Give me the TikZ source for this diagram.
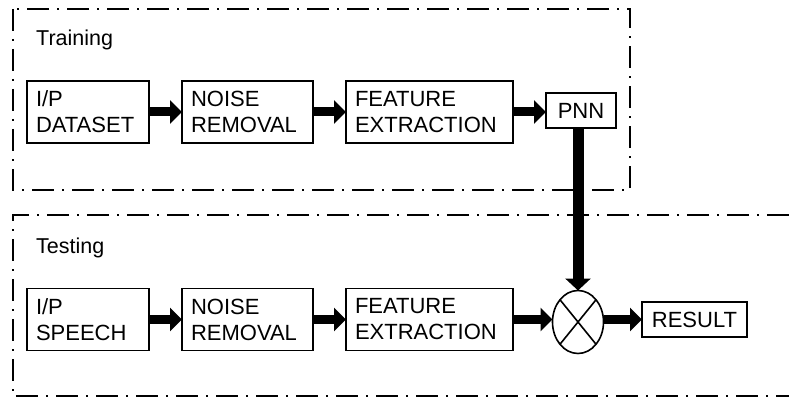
\documentclass[tikz,border=0pt]{standalone}
\usepackage{fontspec}
\setmainfont{Liberation Sans}
\usetikzlibrary{arrows.meta,shapes.geometric}
\begin{document}
\begin{tikzpicture}[x=1pt,y=-1pt,
  txt/.style={font=\fontsize{22}{26}\selectfont},
  lbl/.style={font=\fontsize{21.5}{26}\selectfont},
  blk/.style={draw,line width=1.6pt,rectangle,txt,inner xsep=9pt,inner ysep=0pt,align=left,minimum height=62pt,outer sep=0pt},
  sblk/.style={draw,line width=1.6pt,rectangle,txt,inner sep=0pt,minimum height=35pt,outer sep=0pt},
  region/.style={line width=1.8pt,dash pattern=on 22pt off 8pt on 2pt off 8pt},
  fat/.style={line width=9pt,-{Triangle[width=23pt,length=12pt]}},
]
\useasboundingbox (0,0) rectangle (789,401);
% regions
\draw[region] (13,9) rectangle (630,190);
\draw[region] (789,215) -- (13,215) -- (13,396) -- (789,396);
\node[lbl,anchor=base west,inner sep=0pt] (trlbl) at (36,46) {Training};
\node[lbl,anchor=base west,inner sep=0pt] (telbl) at (36,253) {Testing};
% training row
\node[blk,text width=104pt] (ipd) at (88,112) {I/P\\DATASET};
\node[blk,text width=113pt] (nr1) at (247.5,112) {NOISE\\REMOVAL};
\node[blk,text width=149pt] (fe1) at (429.5,112) {FEATURE\\EXTRACTION};
\node[sblk,minimum width=70pt] (pnn) at (581,110.5) {PNN};
% testing row
\node[blk,text width=104pt] (ips) at (88,319.5) {I/P\\SPEECH};
\node[blk,text width=113pt] (nr2) at (247.5,319.5) {NOISE\\REMOVAL};
\node[blk,text width=149pt] (fe2) at (429.5,319.5) {FEATURE\\EXTRACTION};
\node[draw,ellipse,line width=1.6pt,minimum width=51pt,minimum height=63pt,inner sep=0pt,outer sep=0pt] (circ) at (578,322) {};
\draw[line width=1.6pt] (circ.north west) -- (circ.south east) (circ.north east) -- (circ.south west);
\node[sblk,minimum width=105pt] (res) at (694.5,319.5) {RESULT};
% arrows
\draw[fat] (ipd.east) -- (nr1.west);
\draw[fat] (nr1.east) -- (fe1.west);
\draw[fat] (fe1.east) -- (pnn.west |- fe1.east);
\draw[fat] (ips.east) -- (nr2.west);
\draw[fat] (nr2.east) -- (fe2.west);
\draw[fat] (fe2.east) -- (circ.west |- fe2.east);
\draw[fat] (circ.east |- res.west) -- (res.west);
\draw[fat,line width=11pt,-{Triangle[width=25pt,length=12pt]}] (circ.north |- pnn.south) -- (circ.north);
\end{tikzpicture}
\end{document}
